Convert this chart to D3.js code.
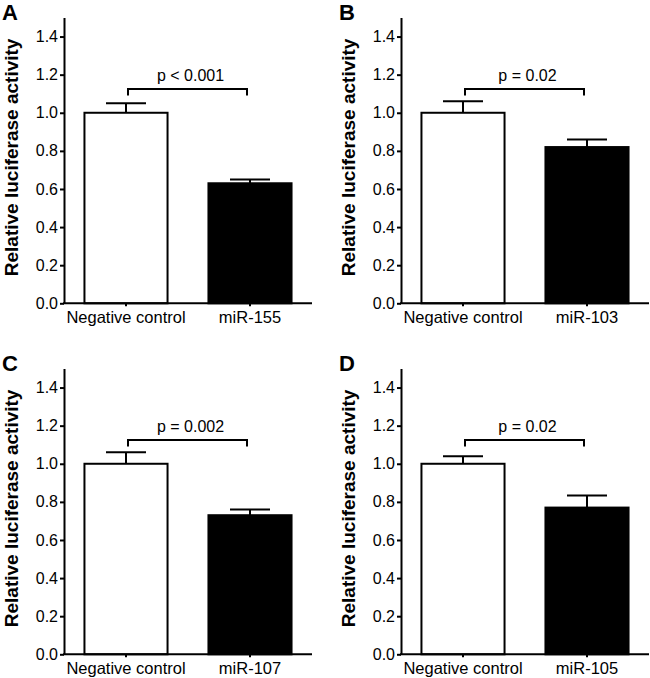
<!DOCTYPE html>
<html>
<head>
<meta charset="utf-8">
<script src="https://cdn.jsdelivr.net/npm/d3@7"></script>
<style>
  html, body { margin: 0; padding: 0; background: #fff; }
  svg { display: block; }
  text { font-family: "Liberation Sans", Arial, Helvetica, sans-serif; fill: #000; }
</style>
</head>
<body>
<svg id="chart" width="650" height="678"></svg>
<script>
// ---- data ----
const panelLetters = ["A", "B", "C", "D"];
const controlLabel = "Negative control";
const mirLabels = ["miR-155", "miR-103", "miR-107", "miR-105"];
const controlMeans = [1.0, 1.0, 1.0, 1.0];
const controlErrors = [0.05, 0.06, 0.06, 0.04];
const mirMeans = [0.63, 0.82, 0.73, 0.77];
const mirErrors = [0.02, 0.04, 0.03, 0.063];
const pLabels = ["p < 0.001", "p = 0.02", "p = 0.002", "p = 0.02"];
const yTicks = [0, 0.2, 0.4, 0.6, 0.8, 1.0, 1.2, 1.4];
const yMax = 1.5;
const bracketLevel = 1.125;
const bracketDrop = 0.035;
const yTitle = "Relative luciferase activity";

// ---- layout ----
const svg = d3.select("#chart");
const panelX = [64, 401, 64, 401];
const panelBottom = [303.3, 303.3, 654.3, 654.3];
const plotW = 248;
const plotH = 285.8;

panelLetters.forEach((letter, i) => {
  const x0 = panelX[i], yb = panelBottom[i];
  const g = svg.append("g");
  const cats = [controlLabel, mirLabels[i]];
  const means = [controlMeans[i], mirMeans[i]];
  const errs = [controlErrors[i], mirErrors[i]];

  const x = d3.scaleBand().domain(cats).range([x0, x0 + plotW]).paddingInner(0.33).paddingOuter(0.165);
  const y = d3.scaleLinear().domain([0, yMax]).range([yb, yb - plotH]);

  // bars
  g.selectAll("rect.bar").data(cats).enter().append("rect")
    .attr("x", d => x(d))
    .attr("y", (d, j) => y(means[j]))
    .attr("width", x.bandwidth())
    .attr("height", (d, j) => y(0) - y(means[j]))
    .attr("fill", (d, j) => j === 0 ? "#fff" : "#000")
    .attr("stroke", "#000")
    .attr("stroke-width", 2);

  // error bars (upper only)
  const capW = 40;
  cats.forEach((c, j) => {
    const cx = x(c) + x.bandwidth() / 2;
    g.append("line").attr("x1", cx).attr("x2", cx)
      .attr("y1", y(means[j])).attr("y2", y(means[j] + errs[j]))
      .attr("stroke", "#000").attr("stroke-width", 2);
    g.append("line").attr("x1", cx - capW / 2).attr("x2", cx + capW / 2)
      .attr("y1", y(means[j] + errs[j])).attr("y2", y(means[j] + errs[j]))
      .attr("stroke", "#000").attr("stroke-width", 2);
  });

  // significance bracket
  const bx1 = x(cats[0]) + x.bandwidth() / 2 + 2;
  const bx2 = x(cats[1]) + x.bandwidth() / 2 - 3;
  g.append("path")
    .attr("d", d3.line()([[bx1, y(bracketLevel - bracketDrop)], [bx1, y(bracketLevel)], [bx2, y(bracketLevel)], [bx2, y(bracketLevel - bracketDrop)]]))
    .attr("fill", "none").attr("stroke", "#000").attr("stroke-width", 2);
  g.append("text")
    .attr("x", (bx1 + bx2) / 2 + 3)
    .attr("y", y(bracketLevel) - 8)
    .attr("text-anchor", "middle")
    .attr("font-size", "16px")
    .text(pLabels[i]);

  // y axis
  const yAxis = d3.axisLeft(y).tickValues(yTicks).tickFormat(d3.format(".1f")).tickSize(4).tickSizeOuter(0).tickPadding(2);
  const ya = g.append("g").attr("transform", `translate(${x0},0)`).call(yAxis);
  ya.selectAll("text").attr("font-size", "16px").attr("font-family", "'Liberation Sans', Arial, sans-serif").attr("fill", "#000");
  ya.selectAll("line").attr("stroke", "#000").attr("stroke-width", 2);
  ya.select(".domain").attr("stroke", "#000").attr("stroke-width", 2);

  // x axis
  const xAxis = d3.axisBottom(x).tickSize(3).tickSizeOuter(0).tickPadding(4);
  const xa = g.append("g").attr("transform", `translate(0,${yb})`).call(xAxis);
  xa.selectAll("text").attr("font-size", "16.5px").attr("font-family", "'Liberation Sans', Arial, sans-serif").attr("fill", "#000")
    .attr("y", 20).attr("dy", 0);
  xa.selectAll("line").attr("stroke", "#000").attr("stroke-width", 2);
  xa.select(".domain").attr("stroke", "#000").attr("stroke-width", 2).attr("d", `M${x0 - 1},0H${x0 + plotW}`);

  // y title
  g.append("text")
    .attr("transform", `translate(${x0 - 46.5},${yb - plotH / 2 - 3}) rotate(-90)`)
    .attr("text-anchor", "middle")
    .attr("font-size", "19px")
    .attr("font-weight", "bold")
    .text(yTitle);

  // panel letter
  g.append("text")
    .attr("x", x0 - 62)
    .attr("y", yb - 283.5)
    .attr("font-size", "22px")
    .attr("font-weight", "bold")
    .text(letter);
});
</script>
</body>
</html>
